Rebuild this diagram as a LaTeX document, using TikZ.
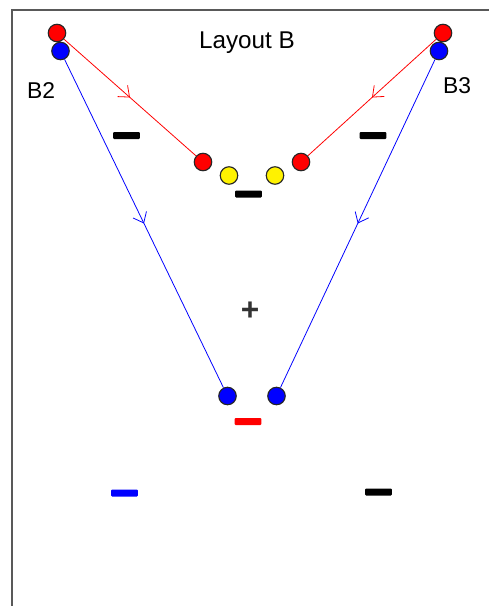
\documentclass[tikz,border=0pt]{standalone}
\usepackage{fontspec}
\setmainfont{Liberation Sans}
\usetikzlibrary{positioning, arrows.meta, decorations.markings}
\tikzset{
  layout/.style={
	x=0.02cm, y=-0.02cm, % one unit is one pixel of the sketch, y runs down
	node distance=0.36cm, % gap from a red ball to the blue one under it
	font=\fontsize{13}{15}\selectfont, % sets the size of the labels
  },
  sheet/.style={draw=black!65, line width=1.1pt}, % the edge of the sheet
  ball/.style={circle, draw=black!85, line width=0.65pt, inner sep=0pt, minimum size=0.35cm},
  redball/.style={ball, fill=red},
  blueball/.style={ball, fill=blue},
  yellowball/.style={ball, fill=yellow},
  bar/.style={rectangle, rounded corners=0.6pt, inner sep=0pt, minimum width=0.54cm, minimum height=0.14cm, fill=#1},
  bar/.default=black,
  beam/.style={
	draw=#1, line width=0.45pt,
	postaction={decorate}, % puts the arrow tip half way
	decoration={markings, mark=at position 0.5 with {\arrow{Straight Barb[length=5.2pt, width=8.5pt]}}},
  },
}

\begin{document}
\begin{tikzpicture}[layout]
	  \useasboundingbox (0,0) rectangle (489,606);
	  \draw[sheet] (12,606) -- (12,10) -- (489,10);
	  % labels
	  \node[anchor=base, font=\fontsize{13.8}{15}\selectfont] (title) at (247,48) {Layout B};
	  \node[anchor=base] (lb2) at (41,98) {B2};
	  \node[anchor=base] (lb3) at (457,93) {B3};
	  % balls
	  \node[redball] (r2) at (57,33) {};
	  \node[blueball, below of=r2, xshift=0.07cm] (b2) {};
	  \node[redball] (r3) at (443,33) {};
	  \node[blueball, below of=r3, xshift=-0.08cm] (b3) {};
	  \node[redball] (ri2) at (203,162) {};
	  \node[yellowball] (y2) at (229,175.5) {};
	  \node[yellowball] (y3) at (275,175.5) {};
	  \node[redball] (ri3) at (301,162) {};
	  \node[blueball] (bb2) at (227.5,396) {};
	  \node[blueball] (bb3) at (276.5,396) {};
	  % signs
	  \node[bar] (m2) at (126.5,135.5) {};
	  \node[bar] (m3) at (373,135.5) {};
	  \node[bar] (mc) at (248.5,194) {};
	  \node[bar=red] (mr) at (248,421.5) {};
	  \node[bar=blue] (mb) at (124.5,493) {};
	  \node[bar] (mk) at (378.5,492) {};
	  \node[font=\fontsize{18}{18}\selectfont\bfseries, text=black!80, inner sep=0pt] (plus) at (250,311) {+};
	  % paths
	  \draw[beam=red] (r2) -- (ri2);
	  \draw[beam=red] (r3) -- (ri3);
	  \draw[beam=blue] (b2) -- (bb2);
	  \draw[beam=blue] (b3) -- (bb3);
\end{tikzpicture}
\end{document}
